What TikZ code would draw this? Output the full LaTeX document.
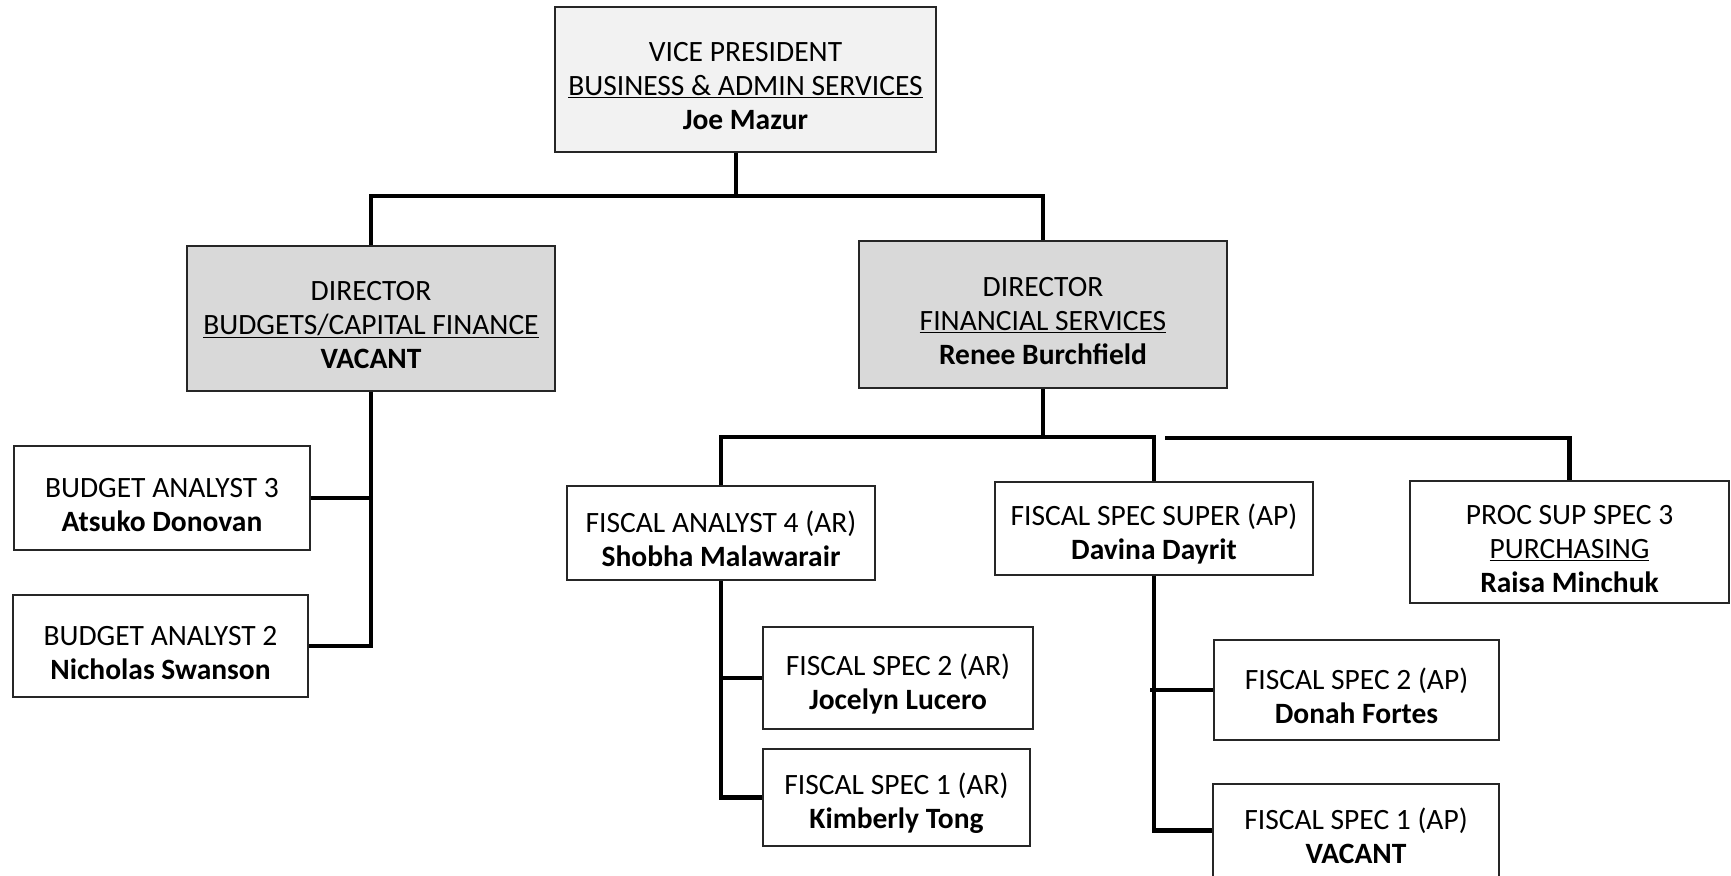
\documentclass[tikz,border=0pt]{standalone}
\usepackage{fontspec}
\setmainfont{Carlito}
\newcommand{\topstrut}{\rule{0pt}{33pt}}
\begin{document}
\begin{tikzpicture}[x=1pt,y=-1pt,
  orgbox/.style={draw=black!85, line width=1.6pt, align=center, inner sep=0pt, font=\fontsize{29.5}{34}\selectfont},
  vpbox/.style={orgbox, fill=black!5},
  dirbox/.style={orgbox, fill=black!15},
  conn/.style={line width=4.6pt, black}]
\useasboundingbox (0,0) rectangle (1731,875);
% boxes
\node[vpbox, minimum width=381pt, minimum height=145pt] (vp) at (745.5,79.5) {\topstrut VICE PRESIDENT\\\underline{BUSINESS \& ADMIN SERVICES}\\\textbf{Joe Mazur}};
\node[dirbox, minimum width=368pt, minimum height=145pt] (dirb) at (371,318.5) {\topstrut DIRECTOR\\\underline{BUDGETS/CAPITAL FINANCE}\\\textbf{VACANT}};
\node[dirbox, minimum width=368pt, minimum height=147pt] (dirf) at (1043,314.5) {\topstrut DIRECTOR\\\underline{FINANCIAL SERVICES}\\\textbf{Renee Burchfield}};
\node[orgbox, minimum width=296pt, minimum height=104pt] (ba3) at (162,498) {\topstrut BUDGET ANALYST 3\\\textbf{Atsuko Donovan}};
\node[orgbox, minimum width=295pt, minimum height=102pt] (ba2) at (160.5,646) {\topstrut BUDGET ANALYST 2\\\textbf{Nicholas Swanson}};
\node[orgbox, minimum width=308pt, minimum height=94pt] (fa4) at (721,533) {\topstrut FISCAL ANALYST 4 (AR)\\\textbf{Shobha Malawarair}};
\node[orgbox, minimum width=318pt, minimum height=93pt] (fss) at (1154,528.5) {\topstrut FISCAL SPEC SUPER (AP)\\\textbf{Davina Dayrit}};
\node[orgbox, minimum width=319pt, minimum height=122pt] (pss) at (1569.5,542) {\topstrut PROC SUP SPEC 3\\\underline{PURCHASING}\\\textbf{Raisa Minchuk}};
\node[orgbox, minimum width=270pt, minimum height=102pt] (fs2ar) at (898,678) {\topstrut FISCAL SPEC 2 (AR)\\\textbf{Jocelyn Lucero}};
\node[orgbox, minimum width=267pt, minimum height=97pt] (fs1ar) at (896.5,797.5) {\topstrut FISCAL SPEC 1 (AR)\\\textbf{Kimberly Tong}};
\node[orgbox, minimum width=285pt, minimum height=100pt] (fs2ap) at (1356.5,690) {\topstrut FISCAL SPEC 2 (AP)\\\textbf{Donah Fortes}};
\node[orgbox, minimum width=286pt, minimum height=93pt] (fs1ap) at (1356,830.5) {\topstrut FISCAL SPEC 1 (AP)\\\textbf{VACANT}};
% connectors
\coordinate (vpj) at (736,196);
\draw[conn] (vp.south -| vpj) -- (vpj);
\draw[conn] (dirb.north) |- (vpj) -| (dirf.north);
\coordinate (fsj) at (1043,437);
\draw[conn] (dirf.south) -- (fsj);
\draw[conn] (fa4.north) |- (fss.north |- fsj) -- (fss.north);
\coordinate (pssj) at (1165,438);
\draw[conn] (pssj) -| (pss.north);
\draw[conn] (dirb.south) |- (ba2.east);
\draw[conn] (ba3.east) -- (ba3.east -| dirb.south);
\draw[conn] (fa4.south) |- (fs1ar.west);
\draw[conn] (fs2ar.west) -- (fs2ar.west -| fa4.south);
\draw[conn] (fss.south) |- (fs1ap.west);
\coordinate (fs2apj) at ([xshift=-4pt]fss.south |- fs2ap.west);
\draw[conn] (fs2ap.west) -- (fs2apj);
\end{tikzpicture}
\end{document}
